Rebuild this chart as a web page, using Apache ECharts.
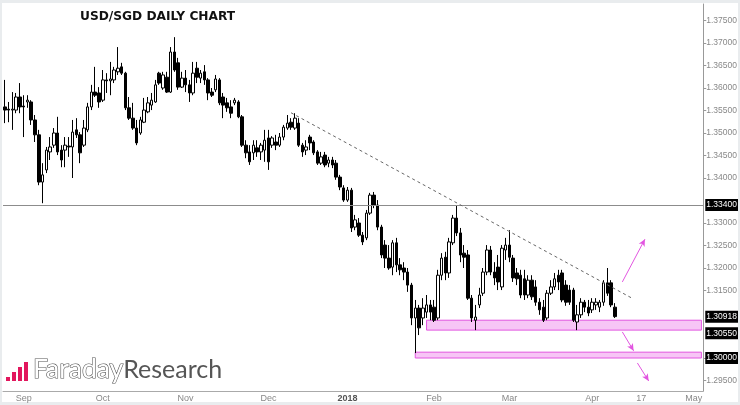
<!DOCTYPE html>
<html>
<head>
<meta charset="utf-8">
<script src="https://cdn.jsdelivr.net/npm/echarts@6/dist/echarts.min.js"></script>
<style>
  html, body { margin: 0; padding: 0; background: #e9ecee; }
  #panel { position: absolute; left: 2px; top: 3px; width: 736px; height: 399px; background: #fff; }
  #main { position: absolute; left: 0; top: 0; width: 740px; height: 405px; }
</style>
</head>
<body>
<div id="panel"></div>
<div id="main"></div>
<script>
// daily candles [open, close, low, high], 25 Aug 2017 .. 10 Apr 2018
const candles = [
  [1.3558,1.3551,1.3522,1.3618],[1.3553,1.3551,1.3524,1.3569],[1.3551,1.3553,1.3507,1.3591],
  [1.3551,1.3580,1.3544,1.3589],[1.3580,1.3558,1.3544,1.3611],[1.3560,1.3558,1.3491,1.3584],
  [1.3569,1.3573,1.3556,1.3584],[1.3569,1.3529,1.3518,1.3573],[1.3529,1.3496,1.3480,1.3540],
  [1.3496,1.3391,1.3384,1.3507],[1.3391,1.3407,1.3344,1.3433],[1.3418,1.3462,1.3411,1.3469],
  [1.3458,1.3469,1.3440,1.3491],[1.3473,1.3500,1.3467,1.3511],[1.3500,1.3458,1.3451,1.3536],
  [1.3462,1.3440,1.3424,1.3473],[1.3462,1.3473,1.3424,1.3491],[1.3471,1.3469,1.3447,1.3491],
  [1.3469,1.3502,1.3400,1.3529],[1.3507,1.3496,1.3489,1.3533],[1.3496,1.3456,1.3433,1.3502],
  [1.3473,1.3511,1.3469,1.3529],[1.3507,1.3558,1.3502,1.3567],[1.3558,1.3591,1.3551,1.3607],
  [1.3591,1.3584,1.3580,1.3647],[1.3589,1.3569,1.3556,1.3602],[1.3573,1.3618,1.3569,1.3640],
  [1.3618,1.3616,1.3589,1.3633],[1.3616,1.3620,1.3584,1.3658],[1.3618,1.3640,1.3611,1.3647],
  [1.3636,1.3644,1.3629,1.3691],[1.3647,1.3633,1.3629,1.3656],[1.3633,1.3556,1.3551,1.3636],
  [1.3556,1.3533,1.3529,1.3580],[1.3533,1.3511,1.3507,1.3567],[1.3511,1.3478,1.3473,1.3529],
  [1.3500,1.3529,1.3496,1.3536],[1.3524,1.3551,1.3522,1.3578],[1.3547,1.3567,1.3544,1.3580],
  [1.3562,1.3573,1.3551,1.3589],[1.3569,1.3607,1.3567,1.3618],[1.3633,1.3611,1.3607,1.3636],
  [1.3600,1.3629,1.3596,1.3636],[1.3624,1.3591,1.3589,1.3636],[1.3591,1.3680,1.3589,1.3691],
  [1.3680,1.3640,1.3636,1.3713],[1.3656,1.3602,1.3596,1.3667],[1.3602,1.3622,1.3600,1.3636],
  [1.3622,1.3607,1.3591,1.3640],[1.3607,1.3589,1.3569,1.3618],[1.3589,1.3633,1.3584,1.3658],
  [1.3644,1.3624,1.3611,1.3658],[1.3622,1.3633,1.3611,1.3640],[1.3636,1.3618,1.3607,1.3651],
  [1.3618,1.3589,1.3573,1.3622],[1.3591,1.3584,1.3580,1.3600],[1.3596,1.3620,1.3591,1.3629],
  [1.3618,1.3567,1.3562,1.3622],[1.3580,1.3562,1.3533,1.3589],[1.3567,1.3556,1.3547,1.3578],
  [1.3558,1.3544,1.3533,1.3573],[1.3567,1.3573,1.3562,1.3578],[1.3569,1.3536,1.3533,1.3573],
  [1.3536,1.3473,1.3469,1.3540],[1.3473,1.3456,1.3444,1.3484],[1.3458,1.3436,1.3429,1.3473],
  [1.3456,1.3473,1.3440,1.3484],[1.3467,1.3458,1.3447,1.3484],[1.3458,1.3473,1.3440,1.3478],
  [1.3462,1.3484,1.3436,1.3507],[1.3489,1.3436,1.3418,1.3507],[1.3473,1.3489,1.3467,1.3493],
  [1.3480,1.3473,1.3462,1.3496],[1.3473,1.3491,1.3469,1.3500],[1.3491,1.3513,1.3484,1.3518],
  [1.3511,1.3522,1.3507,1.3540],[1.3524,1.3513,1.3507,1.3533],[1.3511,1.3533,1.3507,1.3544],
  [1.3522,1.3473,1.3469,1.3533],[1.3473,1.3458,1.3447,1.3478],[1.3462,1.3469,1.3451,1.3484],
  [1.3491,1.3478,1.3462,1.3496],[1.3480,1.3456,1.3451,1.3484],[1.3458,1.3433,1.3429,1.3462],
  [1.3433,1.3447,1.3429,1.3458],[1.3451,1.3429,1.3424,1.3458],[1.3433,1.3440,1.3424,1.3447],
  [1.3440,1.3429,1.3422,1.3447],[1.3433,1.3402,1.3396,1.3440],[1.3402,1.3380,1.3373,1.3407],
  [1.3378,1.3351,1.3347,1.3384],[1.3351,1.3373,1.3347,1.3380],[1.3373,1.3289,1.3280,1.3378],
  [1.3291,1.3307,1.3284,1.3318],[1.3300,1.3273,1.3269,1.3311],[1.3273,1.3258,1.3251,1.3280],
  [1.3267,1.3322,1.3262,1.3329],[1.3322,1.3362,1.3318,1.3367],[1.3362,1.3340,1.3333,1.3369],
  [1.3340,1.3291,1.3284,1.3351],[1.3291,1.3229,1.3222,1.3296],[1.3251,1.3222,1.3200,1.3262],
  [1.3222,1.3200,1.3196,1.3251],[1.3202,1.3256,1.3184,1.3262],[1.3256,1.3207,1.3191,1.3267],
  [1.3207,1.3196,1.3184,1.3222],[1.3200,1.3191,1.3173,1.3213],[1.3191,1.3162,1.3147,1.3200],
  [1.3162,1.3089,1.3073,1.3167],[1.3089,1.3111,1.3011,1.3129],[1.3111,1.3067,1.3051,1.3118],
  [1.3089,1.3111,1.3073,1.3133],[1.3102,1.3118,1.3089,1.3140],[1.3118,1.3102,1.3084,1.3129],
  [1.3113,1.3084,1.3080,1.3129],[1.3089,1.3184,1.3084,1.3196],[1.3184,1.3222,1.3173,1.3233],
  [1.3224,1.3189,1.3173,1.3236],[1.3189,1.3258,1.3178,1.3267],[1.3256,1.3311,1.3251,1.3318],
  [1.3311,1.3278,1.3271,1.3340],[1.3278,1.3229,1.3213,1.3289],[1.3233,1.3224,1.3200,1.3251],
  [1.3229,1.3133,1.3129,1.3240],[1.3133,1.3089,1.3080,1.3140],[1.3084,1.3091,1.3062,1.3118],
  [1.3118,1.3140,1.3111,1.3156],[1.3144,1.3191,1.3138,1.3200],[1.3191,1.3240,1.3184,1.3251],
  [1.3240,1.3191,1.3184,1.3249],[1.3191,1.3178,1.3162,1.3213],[1.3202,1.3169,1.3151,1.3229],
  [1.3158,1.3244,1.3151,1.3251],[1.3240,1.3251,1.3218,1.3267],[1.3251,1.3224,1.3213,1.3284],
  [1.3222,1.3178,1.3169,1.3229],[1.3189,1.3176,1.3162,1.3200],[1.3184,1.3140,1.3133,1.3196],
  [1.3176,1.3140,1.3129,1.3196],[1.3140,1.3173,1.3133,1.3184],[1.3173,1.3136,1.3129,1.3184],
  [1.3158,1.3124,1.3116,1.3173],[1.3124,1.3107,1.3096,1.3133],[1.3113,1.3084,1.3080,1.3129],
  [1.3089,1.3144,1.3084,1.3151],[1.3144,1.3158,1.3140,1.3173],[1.3158,1.3176,1.3151,1.3189],
  [1.3184,1.3169,1.3151,1.3196],[1.3189,1.3129,1.3124,1.3196],[1.3162,1.3124,1.3116,1.3173],
  [1.3151,1.3124,1.3118,1.3162],[1.3151,1.3084,1.3080,1.3156],[1.3080,1.3096,1.3062,1.3118],
  [1.3096,1.3124,1.3089,1.3133],[1.3124,1.3113,1.3102,1.3129],[1.3113,1.3100,1.3093,1.3129],
  [1.3107,1.3124,1.3100,1.3133],[1.3118,1.3124,1.3107,1.3133],[1.3113,1.3124,1.3102,1.3129],
  [1.3124,1.3167,1.3116,1.3173],[1.3167,1.3144,1.3138,1.3200],[1.3167,1.3118,1.3113,1.3173],
  [1.3113,1.3092,1.3089,1.3122]
];

// x axis labels
const tickDates = ['2017-09-01','2017-10-02','2017-11-01','2017-12-01','2018-01-01','2018-02-01','2018-03-01','2018-04-02','2018-04-17','2018-05-01'];
const tickNames = ['Sep','Oct','Nov','Dec','2018','Feb','Mar','Apr','17','May'];
// y axis labels
const priceTicks = [1.295, 1.300, 1.315, 1.320, 1.325, 1.330, 1.340, 1.345, 1.350, 1.355, 1.360, 1.365, 1.370, 1.375];
// levels marked on the price scale
const levels = [1.334, 1.30918, 1.3055, 1.300];
const levelText = ['1.33400', '1.30918', '1.30550', '1.30000'];
// support zones [from index, top, bottom]
const zones = [[112, 1.3084, 1.3062], [109, 1.3013, 1.3000]];
// trend line [index, price] pairs
const trend = [[76, 1.3545], [167, 1.3131]];
// scenario arrows
const arrows = [
  [[164, 1.3169], [170, 1.3264]],
  [[164, 1.3058], [167, 1.3016]],
  [[168, 1.2989], [171, 1.2949]]
];

// trading days up to the last bar, then calendar days to the edge
const fmt = d => d.toISOString().slice(0, 10);
const cats = [];
let d = new Date(Date.UTC(2017, 7, 25));
const lastBar = Date.UTC(2018, 3, 10);
const axisEnd = Date.UTC(2018, 4, 3);
while (d.getTime() <= lastBar) {
  const wd = d.getUTCDay();
  if (wd !== 0 && wd !== 6) cats.push(fmt(d));
  d = new Date(d.getTime() + 86400000);
}
while (d.getTime() <= axisEnd) {
  cats.push(fmt(d));
  d = new Date(d.getTime() + 86400000);
}
const seriesData = cats.map((c, i) => (i < candles.length ? candles[i] : '-'));
const lastIdx = cats.length - 1;

const chart = echarts.init(document.getElementById('main'), null, { renderer: 'canvas' });

const pink = '#e255e0';
const markLines = [];
levels.forEach((v, i) => {
  markLines.push({
    yAxis: v,
    lineStyle: i === 0 ? { color: '#8c8c8c', width: 1, type: 'solid' } : { color: 'rgba(0,0,0,0)', width: 0 },
    label: {
      show: true, position: 'end', distance: 2, formatter: levelText[i],
      backgroundColor: '#000', color: '#fff', fontSize: 8.5, fontFamily: 'Liberation Sans',
      padding: [2, 1, 1, 1]
    }
  });
});
markLines.push([
  { coord: [cats[trend[0][0]], trend[0][1]], symbol: 'none', lineStyle: { color: '#666', type: [3, 3], width: 1 } },
  { coord: [cats[trend[1][0]], trend[1][1]], symbol: 'none' }
]);
arrows.forEach(a => {
  markLines.push([
    { coord: [cats[a[0][0]], a[0][1]], symbol: 'none', lineStyle: { color: pink, width: 1, type: 'solid' } },
    { coord: [cats[a[1][0]], a[1][1]], symbol: 'arrow', symbolSize: [5, 7] }
  ]);
});

const option = {
  animation: false,
  backgroundColor: 'transparent',
  grid: { left: 3, right: 35, top: 4, bottom: 14 },
  xAxis: {
    type: 'category',
    data: cats,
    boundaryGap: true,
    axisLine: { lineStyle: { color: '#aaa' } },
    axisTick: {
      alignWithLabel: true, length: 3, lineStyle: { color: '#aaa' },
      interval: (i, v) => tickDates.includes(v)
    },
    axisLabel: {
      margin: 3, fontSize: 9, color: '#888', fontFamily: 'Liberation Sans',
      interval: (i, v) => tickDates.includes(v),
      formatter: v => {
        const n = tickNames[tickDates.indexOf(v)];
        return n === '2018' ? '{b|' + n + '}' : n;
      },
      rich: { b: { fontWeight: 'bold', color: '#555', fontSize: 9, fontFamily: 'Liberation Sans' } }
    },
    splitLine: { show: false }
  },
  yAxis: {
    type: 'value',
    position: 'right',
    min: 1.29267,
    max: 1.37867,
    axisLine: { show: true, lineStyle: { color: '#999' } },
    axisTick: { show: true, length: 3, customValues: priceTicks, lineStyle: { color: '#999' } },
    axisLabel: {
      customValues: priceTicks, margin: 3, fontSize: 8.5, color: '#888', fontFamily: 'Liberation Sans',
      formatter: v => v.toFixed(5)
    },
    splitLine: { show: false }
  },
  graphic: [
    { type: 'text', left: 80, top: 11, z: 100,
      style: { text: 'USD/SGD DAILY CHART', font: 'bold 12.2px "DejaVu Sans"', fill: '#111' } },
    { type: 'rect', shape: { x: 6, y: 377, width: 4, height: 4 }, style: { fill: '#e2175d' }, z: 100 },
    { type: 'rect', shape: { x: 12, y: 372, width: 4, height: 9 }, style: { fill: '#e2175d' }, z: 100 },
    { type: 'rect', shape: { x: 18, y: 367, width: 4, height: 14 }, style: { fill: '#e2175d' }, z: 100 },
    { type: 'rect', shape: { x: 24, y: 362, width: 4, height: 19 }, style: { fill: '#e2175d' }, z: 100 },
    { type: 'text', x: 33, y: 383, z: 100,
      style: {
        text: '{a|Faraday}{b|Research}', textVerticalAlign: 'bottom',
        rich: {
          a: { font: '26.5px Lato', fill: '#fff', stroke: '#555', lineWidth: 1.2 },
          b: { font: '25px Lato', fill: '#555' }
        }
      } }
  ],
  series: [{
    type: 'candlestick',
    data: seriesData,
    barWidth: 3,
    itemStyle: {
      color: '#fff', color0: '#000',
      borderColor: '#000', borderColor0: '#000', borderWidth: 1
    },
    markArea: {
      silent: true,
      itemStyle: { color: 'rgba(240,150,238,0.55)', borderColor: pink, borderWidth: 1 },
      data: zones.map(z => [
        { coord: [cats[z[0]], z[1]] },
        { coord: [cats[lastIdx], z[2]] }
      ])
    },
    markLine: {
      silent: true,
      precision: 5,
      symbol: 'none',
      label: { show: false },
      data: markLines
    }
  }]
};
chart.setOption(option);
</script>
</body>
</html>
